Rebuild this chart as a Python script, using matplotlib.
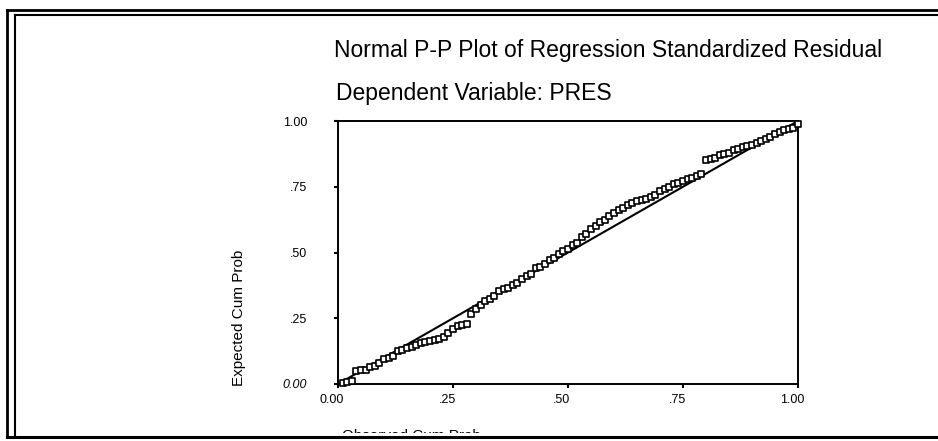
import matplotlib.pyplot as plt
import numpy as np
from matplotlib.patches import Rectangle
from matplotlib.lines import Line2D
import matplotlib.transforms as mtransforms

plt.rcParams['font.family'] = ['Liberation Sans', 'DejaVu Sans']

# Observed Cum Prob (x) e Expected Cum Prob (y)
observado = [0.01, 0.02, 0.03, 0.04, 0.05, 0.06, 0.07, 0.08, 0.09, 0.10,
             0.11, 0.12, 0.13, 0.14, 0.15, 0.16, 0.17, 0.18, 0.19, 0.20,
             0.21, 0.22, 0.23, 0.24, 0.25, 0.26, 0.27, 0.28, 0.29, 0.30,
             0.31, 0.32, 0.33, 0.34, 0.35, 0.36, 0.37, 0.38, 0.39, 0.40,
             0.41, 0.42, 0.43, 0.44, 0.45, 0.46, 0.47, 0.48, 0.49, 0.50,
             0.51, 0.52, 0.53, 0.54, 0.55, 0.56, 0.57, 0.58, 0.59, 0.60,
             0.61, 0.62, 0.63, 0.64, 0.65, 0.66, 0.67, 0.68, 0.69, 0.70,
             0.71, 0.72, 0.73, 0.74, 0.75, 0.76, 0.77, 0.78, 0.79, 0.80,
             0.81, 0.82, 0.83, 0.84, 0.85, 0.86, 0.87, 0.88, 0.89, 0.90,
             0.91, 0.92, 0.93, 0.94, 0.95, 0.96, 0.97, 0.98, 0.99, 1.00]
esperado = [0.002, 0.006, 0.012, 0.050, 0.052, 0.055, 0.065, 0.070, 0.080, 0.095,
            0.100, 0.108, 0.125, 0.130, 0.135, 0.140, 0.150, 0.155, 0.158, 0.165,
            0.168, 0.172, 0.180, 0.195, 0.210, 0.220, 0.225, 0.230, 0.268, 0.285,
            0.300, 0.315, 0.325, 0.335, 0.355, 0.360, 0.365, 0.378, 0.385, 0.400,
            0.410, 0.420, 0.440, 0.445, 0.455, 0.470, 0.480, 0.495, 0.505, 0.515,
            0.530, 0.535, 0.560, 0.570, 0.590, 0.600, 0.615, 0.625, 0.640, 0.650,
            0.660, 0.670, 0.680, 0.690, 0.695, 0.700, 0.705, 0.710, 0.720, 0.735,
            0.740, 0.750, 0.760, 0.765, 0.770, 0.780, 0.785, 0.790, 0.800, 0.850,
            0.855, 0.860, 0.870, 0.875, 0.880, 0.890, 0.895, 0.900, 0.905, 0.910,
            0.915, 0.925, 0.930, 0.940, 0.950, 0.960, 0.965, 0.970, 0.975, 0.990]

ticks = [0.0, 0.25, 0.5, 0.75, 1.0]
rotulos_x = ['0.00', '.25', '.50', '.75', '1.00']
rotulos_y = ['0.00', '.25', '.50', '.75', '1.00']

W, H = 938, 441
fig = plt.figure(figsize=(W / 100, H / 100), dpi=100)

def px(x, y):
    # pixel (origem no topo) -> fração da figura
    return x / W, 1 - y / H

# Eixos
esq, topo = px(338, 121)
dir_, base = px(798, 384)
ax = fig.add_axes([esq, base, dir_ - esq, topo - base])
ax.plot([0, 1], [0, 1], color='black', lw=1.5, zorder=2)
ax.scatter(observado, esperado, marker='s', s=22, facecolors='white',
           edgecolors='black', linewidths=1.2, zorder=3, clip_on=False)
ax.set_xlim(0, 1)
ax.set_ylim(0, 1)
for s in ax.spines.values():
    s.set_linewidth(1.4)
ax.set_xticks(ticks)
ax.set_xticklabels(rotulos_x, fontsize=9)
ax.set_yticks(ticks)
ax.set_yticklabels(rotulos_y, fontsize=9)
ax.tick_params(axis='both', direction='out', length=3, width=1.5)
ax.tick_params(axis='y', pad=19)
ax.tick_params(axis='x', pad=4)
ax.get_yticklabels()[0].set_style('italic')
desloc = mtransforms.ScaledTranslation(-6 / 100, 0, fig.dpi_scale_trans)
for lbl in ax.get_xticklabels():
    lbl.set_transform(lbl.get_transform() + desloc)

# Títulos
x0, y0 = px(334, 57)
fig.text(x0, y0, 'Normal P-P Plot of Regression Standardized Residual',
         fontsize=16.5, ha='left', va='baseline')
x0, y0 = px(336, 100)
fig.text(x0, y0, 'Dependent Variable: PRES', fontsize=16.5, ha='left',
         va='baseline')

# Rótulos dos eixos
x0, y0 = px(239, 318)
fig.text(x0, y0, 'Expected Cum Prob', fontsize=11, rotation=90,
         ha='center', va='center')
x0, y0 = px(342, 429)
fig.text(x0, y0, 'Observed Cum Prob', fontsize=11, ha='left', va='top')

# Faixa branca que corta o rótulo de x, como no original
fig.patches.append(Rectangle((0, 0), 1, px(0, 433)[1], transform=fig.transFigure,
                             facecolor='white', edgecolor='none', zorder=5))

# Moldura dupla
linhas = [
    ([px(7, 0)[0], px(7, 0)[0]], [px(0, 10)[1], px(0, 437)[1]], 2.0),
    ([px(15, 0)[0], px(15, 0)[0]], [px(0, 15)[1], px(0, 437)[1]], 1.5),
    ([px(7, 0)[0], 1], [px(0, 10)[1], px(0, 10)[1]], 2.0),
    ([px(15, 0)[0], 1], [px(0, 15)[1], px(0, 15)[1]], 1.5),
    ([px(7, 0)[0], 1], [px(0, 437)[1], px(0, 437)[1]], 2.2),
]
for xs, ys, lw in linhas:
    fig.lines.append(Line2D(xs, ys, transform=fig.transFigure, color='black',
                            lw=lw, zorder=6))

fig.savefig('out.png', dpi=100)
